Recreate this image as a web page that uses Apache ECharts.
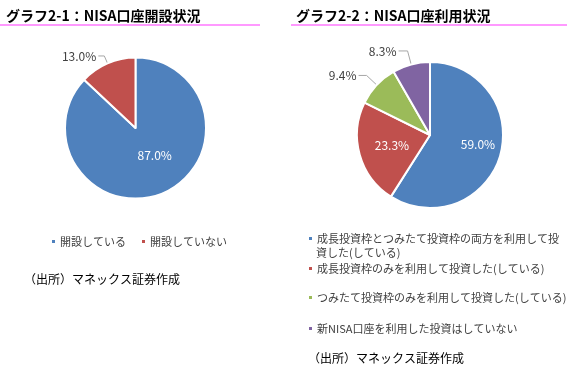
<!DOCTYPE html>
<html><head><meta charset="utf-8">
<script src="https://cdn.jsdelivr.net/npm/echarts@6/dist/echarts.min.js"></script>
<style>html,body{margin:0;padding:0;background:#fff}#c{width:567px;height:372px}</style>
</head><body><div id="c"></div>
<script>
const title1 = 'グラフ2-1：NISA口座開設状況';
const title2 = 'グラフ2-2：NISA口座利用状況';
const source = '（出所）マネックス証券作成';
const cats1 = ['開設している', '開設していない'];
const vals1 = [87.0, 13.0];
const cats2 = ['成長投資枠とつみたて投資枠の両方を利用して投資した(している)', '成長投資枠のみを利用して投資した(している)', 'つみたて投資枠のみを利用して投資した(している)', '新NISA口座を利用した投資はしていない'];
const vals2 = [59.0, 23.3, 9.4, 8.3];
const colors = ['#4F81BD', '#C0504D', '#9BBB59', '#8064A2'];
const legend2Line1 = '成長投資枠とつみたて投資枠の両方を利用して投';
const legend2Line2 = '資した(している)';

const FONT = '"Noto Sans CJK JP", sans-serif';
const chart = echarts.init(document.getElementById('c'), null, {renderer: 'canvas'});

const pct = p => p.value.toFixed(1) + '%';
const insideLabel = (off) => ({show: true, position: 'inside', color: '#fff', fontSize: 12, fontFamily: FONT, formatter: pct, offset: off});
const outsideLabel = (len, len2) => ({
  label: {show: true, position: 'outside', color: '#404040', fontSize: 12, fontFamily: FONT, formatter: pct, distanceToLabelLine: 2},
  labelLine: {show: true, length: len, length2: len2, lineStyle: {color: '#A6A6A6', width: 1}}
});

const data1 = [
  {name: cats1[0], value: vals1[0], itemStyle: {color: colors[0]}, label: insideLabel([4, -8])},
  Object.assign({name: cats1[1], value: vals1[1], itemStyle: {color: colors[1]}}, outsideLabel(8, 6))
];
const data2 = [
  {name: cats2[0], value: vals2[0], itemStyle: {color: colors[0]}, label: insideLabel([10, -2])},
  {name: cats2[1], value: vals2[1], itemStyle: {color: colors[1]}, label: insideLabel([0, 0])},
  Object.assign({name: cats2[2], value: vals2[2], itemStyle: {color: colors[2]}}, outsideLabel(14, 8)),
  Object.assign({name: cats2[3], value: vals2[3], itemStyle: {color: colors[3]}}, outsideLabel(14, 9))
];

const legendBase = {
  icon: 'rect', itemWidth: 5, itemHeight: 5, selectedMode: false,
  textStyle: {fontSize: 11, color: '#404040', fontFamily: FONT, lineHeight: 15, padding: [0, 0, 0, -1]}
};

chart.setOption({
  animation: false,
  title: [
    {text: title1, left: 1, top: 4, textStyle: {fontSize: 14, fontWeight: 'bold', color: '#000', fontFamily: FONT}},
    {text: title2, left: 291, top: 4, textStyle: {fontSize: 14, fontWeight: 'bold', color: '#000', fontFamily: FONT}},
    {text: source, left: 19, top: 268, textStyle: {fontSize: 12, fontWeight: 'normal', color: '#000', fontFamily: FONT}},
    {text: source, left: 303, top: 347, textStyle: {fontSize: 12, fontWeight: 'normal', color: '#000', fontFamily: FONT}}
  ],
  graphic: [
    {type: 'line', shape: {x1: 0, y1: 25, x2: 260, y2: 25}, style: {stroke: '#FF99FF', lineWidth: 2}},
    {type: 'line', shape: {x1: 291, y1: 25, x2: 567, y2: 25}, style: {stroke: '#FF99FF', lineWidth: 2}},
    {type: 'text', x: 316, y: 253, style: {text: legend2Line2, fontSize: 11, fill: '#404040', fontFamily: FONT, textVerticalAlign: 'middle'}}
  ],
  legend: [
    Object.assign({}, legendBase, {data: cats1, left: 45, top: 229, orient: 'horizontal', itemGap: 14}),
    Object.assign({}, legendBase, {data: [cats2[0]], left: 302, top: 226, formatter: () => legend2Line1}),
    Object.assign({}, legendBase, {data: [cats2[1]], left: 302, top: 256}),
    Object.assign({}, legendBase, {data: [cats2[2]], left: 302, top: 285}),
    Object.assign({}, legendBase, {data: [cats2[3]], left: 302, top: 316})
  ],
  series: [
    {type: 'pie', center: [135.5, 128], radius: [0, 70.5], startAngle: 90, clockwise: true,
     itemStyle: {borderColor: '#fff', borderWidth: 2}, emphasis: {disabled: true}, avoidLabelOverlap: false,
     data: data1},
    {type: 'pie', center: [430, 135], radius: [0, 73], startAngle: 90, clockwise: true,
     itemStyle: {borderColor: '#fff', borderWidth: 2}, emphasis: {disabled: true}, avoidLabelOverlap: false,
     data: data2}
  ]
});
</script></body></html>
